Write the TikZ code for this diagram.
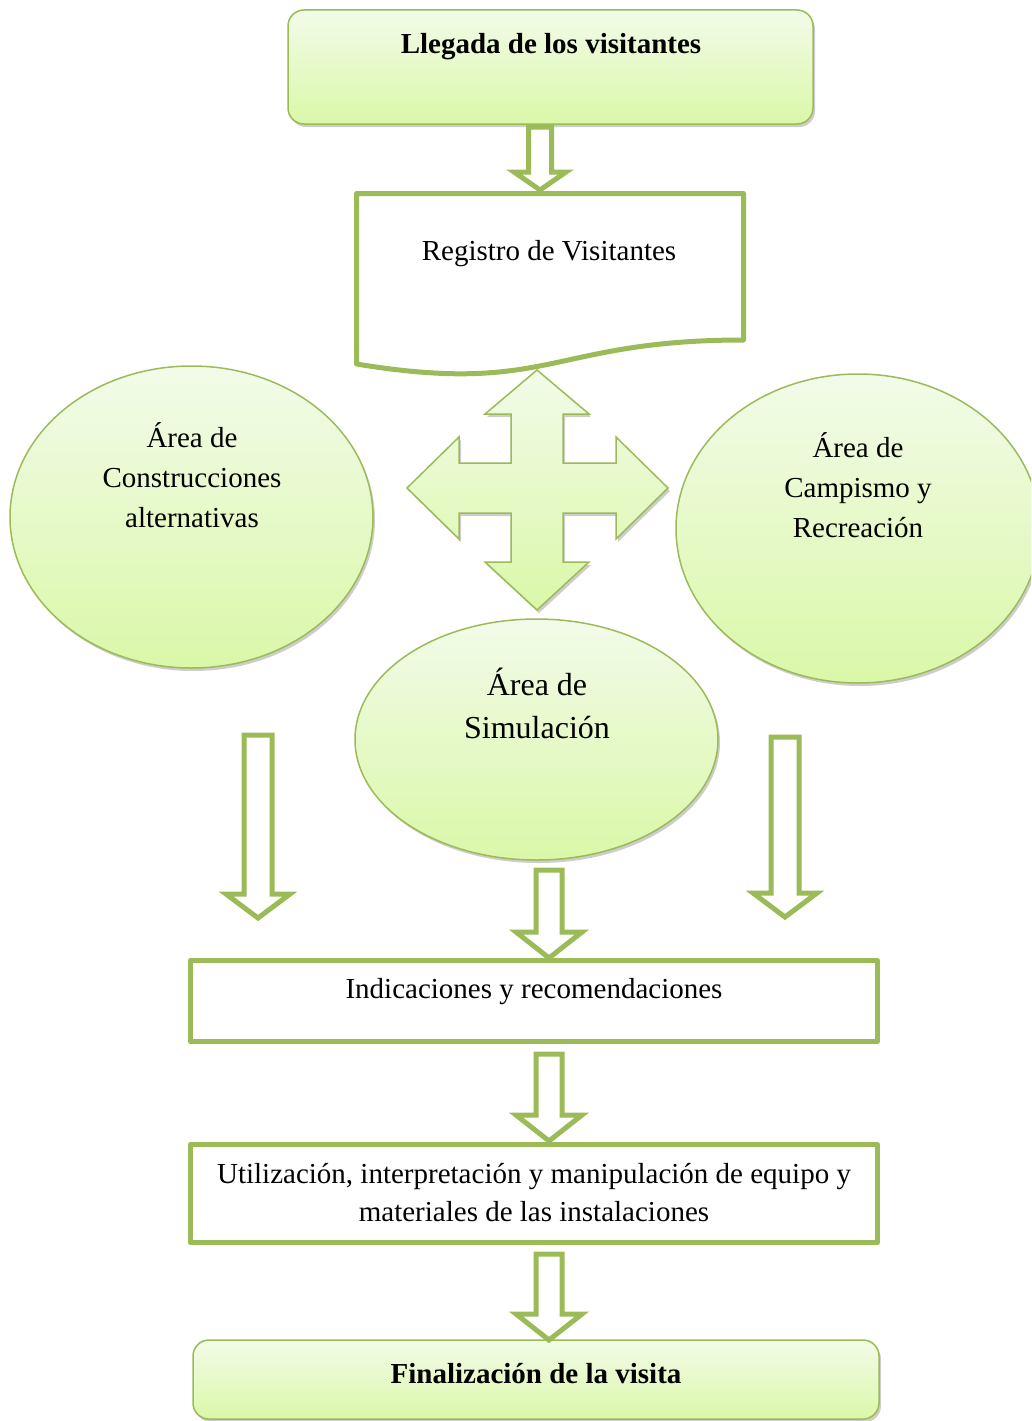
\documentclass[tikz,border=0pt]{standalone}
\usepackage{fontspec}
\setmainfont{Liberation Serif}
\usetikzlibrary{shadows,calc,shapes.geometric}

\definecolor{leaf}{RGB}{155,187,89}
\definecolor{gtop}{RGB}{242,251,233}
\definecolor{gbot}{RGB}{218,248,168}

\tikzset{
  softshadow/.style={drop shadow={shadow xshift=2pt,shadow yshift=-3pt,opacity=0.28,fill=black!70}},
  glossy/.style={draw=leaf,line width=1.5pt,top color=gtop,bottom color=gbot,softshadow},
  plainbox/.style={draw=leaf,line width=5pt,fill=white,line join=round,inner sep=0},
  hollow/.style={draw=leaf,line width=5pt,fill=white,line join=miter},
  txt/.style={font=\fontsize{29}{40}\selectfont,align=center,inner sep=0},
  bigtxt/.style={font=\fontsize{32}{43}\selectfont,align=center,inner sep=0},
  boldtxt/.style={font=\fontsize{29}{40}\selectfont\bfseries,align=center,inner sep=0},
  oval/.style={glossy,ellipse,inner sep=0},
}

% hollow block arrow pointing down: #1 start, #2 tip,
% #3 half shaft width, #4 half head width, #5 head length
\newcommand\blockdown[5]{%
  \draw[hollow] let \p1=(#1), \p2=(#2) in
    (\x2-#3pt,\y1) -- (\x2+#3pt,\y1) -- (\x2+#3pt,\y2+#5pt) -- (\x2+#4pt,\y2+#5pt)
    -- (\x2,\y2) -- (\x2-#4pt,\y2+#5pt) -- (\x2-#3pt,\y2+#5pt) -- cycle;}

\begin{document}
\begin{tikzpicture}[x=1pt,y=-1pt]
\path[use as bounding box,clip] (0,0) rectangle (1031,1421);

% start of the visit
\node[glossy,rounded corners=16pt,minimum width=525pt,minimum height=114pt,inner sep=0]
  (llegada) at (550.5,67) {};
\node[boldtxt] (llegadaT) at (551,47) {Llegada de los visitantes};

% registration document shape
\draw[plainbox] (356.5,193.5) -- (743.5,193.5) -- (743.5,340)
  .. controls (550,340) and (550,395.8) .. (356.5,364) -- cycle;
\node[txt] (registro) at (549,254) {Registro de Visitantes};

% the three areas
\node[oval,minimum width=363pt,minimum height=302pt] (construc) at (191.5,517) {};
\node[txt] (construcT) at (192,475) {Área de\\Construcciones\\alternativas};

\node[oval,minimum width=364pt,minimum height=309pt] (campismo) at (858,528.5) {};
\node[txt] (campismoT) at (858,485) {Área de\\Campismo y\\Recreación};

\node[oval,minimum width=363pt,minimum height=241pt] (simula) at (536.5,739.5) {};
\node[bigtxt] (simulaT) at (537,703) {Área de\\Simulación};

% four-way arrow between the areas
\path[glossy,line join=miter] (537,370) -- (589,414) -- (563,414) -- (563,463) -- (616,463)
  -- (616,437) -- (668,488) -- (616,539) -- (616,513) -- (563,513) -- (563,562)
  -- (589,562) -- (537,610) -- (485,562) -- (511,562) -- (511,513) -- (459,513)
  -- (459,539) -- (407,488) -- (459,437) -- (459,463) -- (511,463) -- (511,414)
  -- (485,414) -- cycle;

% instruction boxes
\node[plainbox,minimum width=687pt,minimum height=81pt] (indic) at (534,1001) {};
\node[txt] (indicT) at (534,992) {Indicaciones y recomendaciones};

\node[plainbox,minimum width=687pt,minimum height=98pt] (util) at (534,1193.5) {};
\node[txt,font=\fontsize{29}{38}\selectfont] (utilT) at (534,1193)
  {Utilización, interpretación y manipulación de equipo y\\materiales de las instalaciones};

% end of the visit
\node[glossy,rounded corners=16pt,minimum width=686pt,minimum height=79pt,inner sep=0]
  (final) at (536,1379.5) {};
\node[boldtxt] (finalT) at (536,1374) {Finalización de la visita};

% block arrows
\coordinate (a1s) at (540,127);   \coordinate (a1t) at (540,190);
\coordinate (a2s) at (258,735);   \coordinate (a2t) at (258,918);
\coordinate (a3s) at (785,737);   \coordinate (a3t) at (785,917);
\coordinate (a4s) at (549,870);   \coordinate (a4t) at (549,958);
\coordinate (a5s) at (549,1054);  \coordinate (a5t) at (549,1141);
\coordinate (a6s) at (549,1254);  \coordinate (a6t) at (549,1340);
\blockdown{a1s}{a1t}{11.5}{26}{18}
\blockdown{a2s}{a2t}{14}{32}{24}
\blockdown{a3s}{a3t}{14}{32}{24}
\blockdown{a4s}{a4t}{13}{33}{26}
\blockdown{a5s}{a5t}{13}{33}{26}
\blockdown{a6s}{a6t}{13}{33}{26}
\end{tikzpicture}
\end{document}
